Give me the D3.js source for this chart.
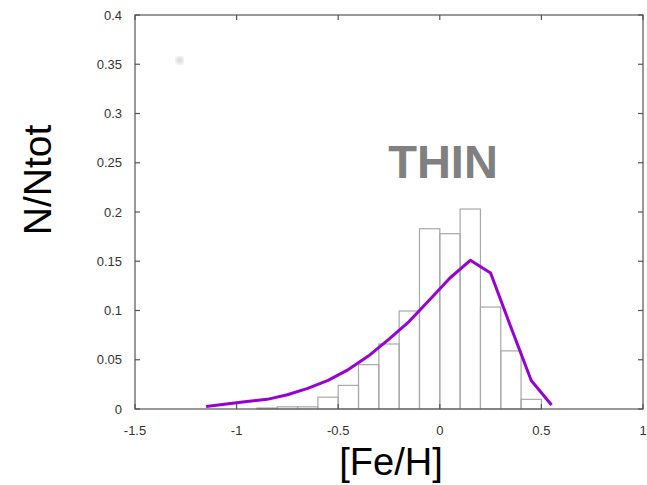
<!DOCTYPE html>
<html>
<head>
<meta charset="utf-8">
<script src="https://cdn.jsdelivr.net/npm/d3@7"></script>
<style>
  body { margin: 0; background: #fff; }
  svg { display: block; font-family: "Liberation Sans", Arial, sans-serif; }
</style>
</head>
<body>
<div id="svg-container"></div>
<script>
// data
const binStart = [-0.9, -0.8, -0.7, -0.6, -0.5, -0.4, -0.3, -0.2, -0.1, 0, 0.1, 0.2, 0.3, 0.4];
const binValue = [0.001, 0.0022, 0.0022, 0.012, 0.024, 0.045, 0.066, 0.0995, 0.183, 0.178, 0.203, 0.1035, 0.059, 0.0098];
const binWidth = 0.1;

const curveX = [-1.15, -1.05, -0.95, -0.85, -0.75, -0.65, -0.55, -0.45, -0.35, -0.25, -0.15, -0.05, 0.05, 0.15, 0.25, 0.35, 0.45, 0.55];
const curveY = [0.0025, 0.005, 0.0075, 0.0098, 0.0145, 0.021, 0.029, 0.04, 0.054, 0.071, 0.089, 0.111, 0.133, 0.151, 0.138, 0.083, 0.029, 0.004];

const xTicks = [-1.5, -1, -0.5, 0, 0.5, 1];
const yTicks = [0, 0.05, 0.1, 0.15, 0.2, 0.25, 0.3, 0.35, 0.4];

// init
const width = 647, height = 485;
const margin = { top: 15, right: 4, bottom: 76, left: 135 };

const svg = d3.select("#svg-container").append("svg")
  .attr("width", width).attr("height", height);

const xScale = d3.scaleLinear().domain([-1.5, 1]).range([margin.left, width - margin.right]);
const yScale = d3.scaleLinear().domain([0, 0.4]).range([height - margin.bottom, margin.top]);

// blurred dot
const defs = svg.append("defs");
defs.append("filter").attr("id", "blur")
  .append("feGaussianBlur").attr("stdDeviation", 2);
svg.append("circle")
  .attr("cx", xScale(-1.28)).attr("cy", yScale(0.354))
  .attr("r", 3.5).attr("fill", "#cfcfcf").attr("filter", "url(#blur)");

// histogram
svg.selectAll("rect.bin")
  .data(binStart)
  .enter()
  .append("rect")
  .attr("class", "bin")
  .attr("x", (d) => xScale(d))
  .attr("width", (d) => xScale(d + binWidth) - xScale(d))
  .attr("y", (d, i) => yScale(binValue[i]))
  .attr("height", (d, i) => yScale(0) - yScale(binValue[i]))
  .attr("fill", "none")
  .attr("stroke", "#a8a8a8")
  .attr("stroke-width", 1.2);

// frame
const x0 = xScale.range()[0], x1 = xScale.range()[1];
const y0 = yScale.range()[0], y1 = yScale.range()[1];
svg.append("rect")
  .attr("x", x0).attr("y", y1)
  .attr("width", x1 - x0).attr("height", y0 - y1)
  .attr("fill", "none").attr("stroke", "#555").attr("stroke-width", 1.2);

// ticks (inward, mirrored)
const tickLen = 5;
const g = svg.append("g").attr("stroke", "#555").attr("stroke-width", 1.2);
xTicks.forEach((t) => {
  g.append("line").attr("x1", xScale(t)).attr("x2", xScale(t)).attr("y1", y0).attr("y2", y0 - tickLen);
  g.append("line").attr("x1", xScale(t)).attr("x2", xScale(t)).attr("y1", y1).attr("y2", y1 + tickLen);
});
yTicks.forEach((t) => {
  g.append("line").attr("x1", x0).attr("x2", x0 + tickLen).attr("y1", yScale(t)).attr("y2", yScale(t));
  g.append("line").attr("x1", x1).attr("x2", x1 - tickLen).attr("y1", yScale(t)).attr("y2", yScale(t));
});

// tick labels
svg.selectAll("text.xt")
  .data(xTicks)
  .enter()
  .append("text")
  .attr("x", (d) => xScale(d))
  .attr("y", y0 + 26)
  .attr("text-anchor", "middle")
  .attr("font-size", 13)
  .attr("fill", "#333")
  .text((d) => d);

svg.selectAll("text.yt")
  .data(yTicks)
  .enter()
  .append("text")
  .attr("x", x0 - 13)
  .attr("y", (d) => yScale(d) + 4.5)
  .attr("text-anchor", "end")
  .attr("font-size", 13)
  .attr("fill", "#333")
  .text((d) => d);

// curve
const line = d3.line()
  .x((d, i) => xScale(curveX[i]))
  .y((d) => yScale(d));
svg.append("path")
  .datum(curveY)
  .attr("d", line)
  .attr("fill", "none")
  .attr("stroke", "#9400d3")
  .attr("stroke-width", 3)
  .attr("stroke-linejoin", "round");

// labels
svg.append("text")
  .attr("x", 443).attr("y", 178)
  .attr("text-anchor", "middle")
  .attr("font-size", 47).attr("font-weight", "bold")
  .attr("fill", "#808080")
  .text("THIN");

svg.append("text")
  .attr("x", 391).attr("y", 475)
  .attr("text-anchor", "middle")
  .attr("font-size", 38)
  .attr("fill", "#000")
  .text("[Fe/H]");

svg.append("text")
  .attr("transform", "translate(51,180) rotate(-90)")
  .attr("text-anchor", "middle")
  .attr("font-size", 39)
  .attr("fill", "#000")
  .text("N/Ntot");
</script>
</body>
</html>
